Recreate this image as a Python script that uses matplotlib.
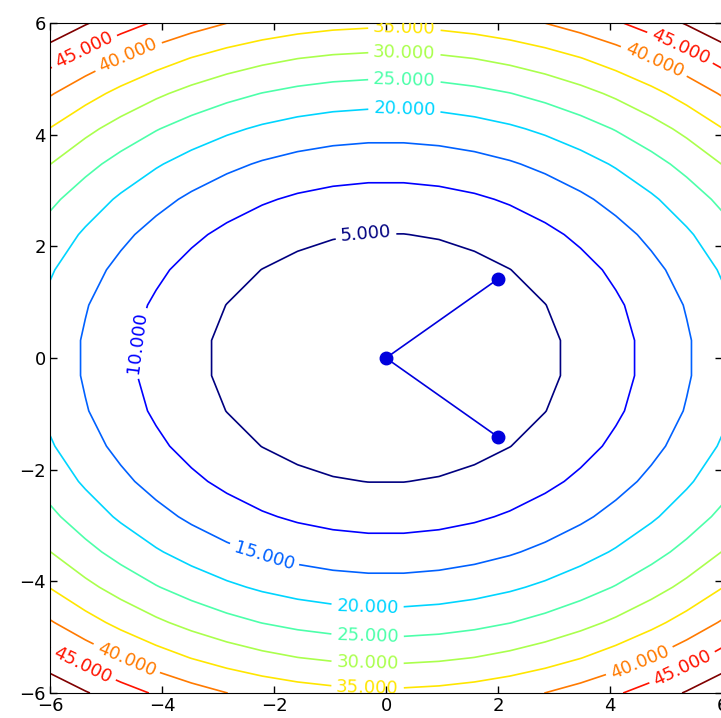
import numpy as np
import matplotlib
matplotlib.use('Agg')
import matplotlib.pyplot as plt

# grid and function f(x, y) = 0.5 x^2 + y^2
grid_x = np.linspace(-6, 6, 20)
grid_y = np.linspace(-6, 6, 20)
levels = [5, 10, 15, 20, 25, 30, 35, 40, 45, 50]

# path of the points
path_x = [2, 0, 2]
path_y = [1.414, 0, -1.414]

# where the contour labels sit
label_pos = [(-0.36, 2.22), (-4.45, 0.27), (-2.18, -3.55),
             (0.33, 4.47), (-0.33, -4.46),
             (0.33, 5.0), (-0.33, -5.0),
             (0.33, 5.48), (-0.33, -5.48),
             (0.33, 5.92), (-0.33, -5.92),
             (-4.6, 5.4), (4.8, 5.35), (-4.6, -5.3), (4.5, -5.36),
             (-5.39, 5.5), (5.27, 5.6), (-5.39, -5.45), (5.27, -5.5)]

plt.rcParams['xtick.direction'] = 'in'
plt.rcParams['ytick.direction'] = 'in'
plt.rcParams['xtick.top'] = True
plt.rcParams['ytick.right'] = True
plt.rcParams['font.size'] = 13

X, Y = np.meshgrid(grid_x, grid_y)
Z = 0.5 * X ** 2 + Y ** 2

fig = plt.figure(figsize=(7.21, 7.18), dpi=100)
ax = fig.add_axes([50 / 721, 25 / 718, 672 / 721, 670 / 718])
cs = ax.contour(X, Y, Z, levels=levels, cmap='jet', linewidths=1.2)
ax.clabel(cs, inline=True, fmt='%.3f', fontsize=13, manual=label_pos)
ax.plot(path_x, path_y, 'o-', color='#0000dd', markersize=9, linewidth=1.2)

ax.set_xlim(-6, 6)
ax.set_ylim(-6, 6)
ax.set_xticks([-6, -4, -2, 0, 2, 4, 6])
ax.set_yticks([-6, -4, -2, 0, 2, 4, 6])
ax.tick_params(length=5, width=1, pad=3)

fig.savefig('out.png', dpi=100, facecolor='white')
